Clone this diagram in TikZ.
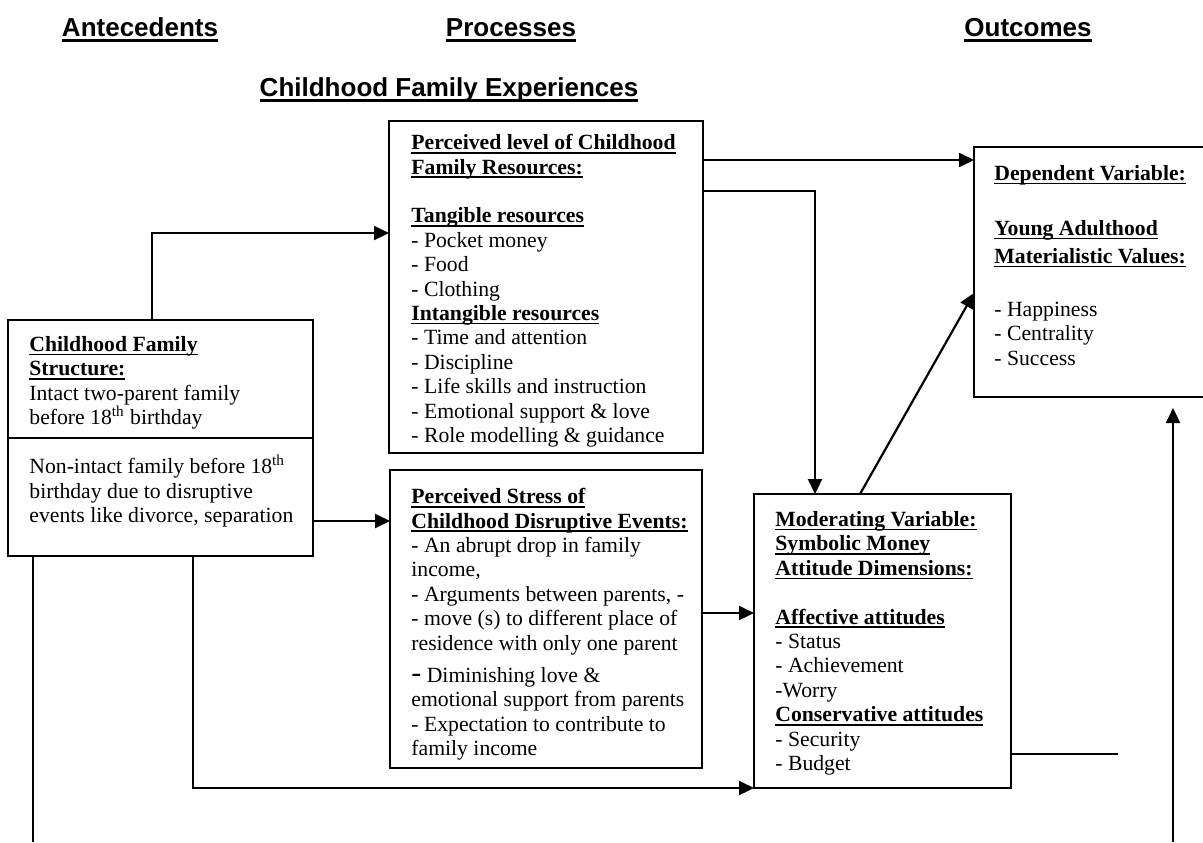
\documentclass[tikz,border=0pt]{standalone}
\usepackage{fontspec}
\setmainfont{Liberation Serif}
\newfontfamily\hdrsans{Liberation Sans}
\usetikzlibrary{arrows.meta,calc}

\newcommand\boxfont{\fontsize{10.85}{12.2}\selectfont}
\newcommand\ulbox[3][0.8pt]{\setbox0\hbox{#3}\rlap{\rule[#2]{\wd0}{#1}}\box0}
\newcommand\ttl[1]{\ulbox{-2pt}{\bfseries #1}}
\newcommand\hdr[1]{\ulbox[1.4pt]{-3pt}{#1}}

\begin{document}
\begin{tikzpicture}[x=0.5pt,y=-0.5pt,
    box/.style={rectangle,draw,line width=0.9pt,anchor=north west,outer sep=0pt,inner sep=0pt},
    txt/.style={anchor=north west,inner sep=0pt,align=left,font=\boxfont},
    head/.style={anchor=base,inner sep=0pt,font=\hdrsans\bfseries\fontsize{13}{15}\selectfont},
    arr/.style={-{Triangle[length=7.5pt,width=7pt]},line width=1.1pt},
    ln/.style={line width=1pt}]
  \useasboundingbox (0,0) rectangle (1203,842);

  \node[head] (hAnt) at (140,36) {\hdr{Antecedents}};
  \node[head] (hPro) at (511,36) {\hdr{Processes}};
  \node[head] (hOut) at (1028,36) {\hdr{Outcomes}};
  \node[head] (hCfe) at (449,96) {\hdr{Childhood Family Experiences}};

  \node[box,minimum width=152.5pt,minimum height=59pt] (stA) at (8,320) {};
  \node[box,minimum width=152.5pt,minimum height=59pt] (stB) at (8,438) {};
  \node[box,minimum width=157pt,minimum height=166pt] (res) at (389,121) {};
  \node[box,minimum width=156pt,minimum height=149pt] (str) at (390,470) {};
  \node[box,minimum width=128.5pt,minimum height=147pt] (mod) at (754,494) {};
  \node[box,minimum width=125pt,minimum height=125pt] (dep) at (974,147) {};

  \node[txt] (stAt) at ($(stA.north west)+(21,16)$)
    {\ttl{Childhood Family}\\ \ttl{Structure:}\\ Intact two-parent family\\
     before 18\textsuperscript{th} birthday};
  \node[txt] (stBt) at ($(stB.north west)+(21,17)$)
    {Non-intact family before 18\textsuperscript{th}\\ birthday due to disruptive\\
     events like divorce, separation};
  \node[txt] (rest) at ($(res.north west)+(22,13)$)
    {\ttl{Perceived level of Childhood}\\ \ttl{Family Resources:}\\[12.2pt]
     \ttl{Tangible resources}\\ - Pocket money\\ - Food\\ - Clothing\\
     \ttl{Intangible resources}\\ - Time and attention\\ - Discipline\\
     - Life skills and instruction\\ - Emotional support \& love\\
     - Role modelling \& guidance};
  \node[txt] (strt) at ($(str.north west)+(21,18)$)
    {\ttl{Perceived Stress of}\\ \ttl{Childhood Disruptive Events:}\\
     - An abrupt drop in family\\ income,\\ - Arguments between parents, -\\
     - move (s) to different place of\\ residence with only one parent\\[4pt]
     {\fontsize{15}{15}\selectfont -} Diminishing love \&\\
     emotional support from parents\\ - Expectation to contribute to\\ family income};
  \node[txt] (modt) at ($(mod.north west)+(21,17)$)
    {\ttl{Moderating Variable:}\\ \ttl{Symbolic Money}\\ \ttl{Attitude Dimensions:}\\[12.2pt]
     \ttl{Affective attitudes}\\ - Status\\ - Achievement\\ -Worry\\
     \ttl{Conservative attitudes}\\ - Security\\ - Budget};
  \node[txt] (dept) at ($(dep.north west)+(20,18)$)
    {\ttl{Dependent Variable:}\\[15.3pt] \ttl{Young Adulthood}\\[1.8pt]
     \ttl{Materialistic Values:}\\[14.3pt] - Happiness\\ - Centrality\\ - Success};

  \coordinate (endL) at (33,842);
  \coordinate (endR) at (1118,754);
  \coordinate (fb) at (1173,842);

  \draw[arr] ($(stA.north west)+(144,0)$) |- ($(res.north west)+(0,112)$);
  \draw[arr] ($(stB.north east)+(0,83)$) -- ($(str.north west)+(0,51)$);
  \draw[arr] ($(res.north east)+(0,39)$) -- ($(dep.north west)+(0,13)$);
  \draw[arr] ($(res.north east)+(0,70)$) -| ($(mod.north west)+(61,0)$);
  \draw[arr] ($(str.north east)+(0,143)$) -- ($(mod.north west)+(0,119)$);
  \draw[arr] ($(stB.south west)+(185,0)$) |- (mod.south west);
  \draw[arr] ($(mod.north west)+(106,0)$) -- ($(dep.south west)+(0,-104)$);
  \draw[arr,shorten >=5.5pt] (fb) -- (fb |- dep.south);
  \draw[ln] ($(stB.south west)+(25,0)$) -- (endL);
  \draw[ln] (mod.east |- endR) -- (endR);
\end{tikzpicture}
\end{document}
